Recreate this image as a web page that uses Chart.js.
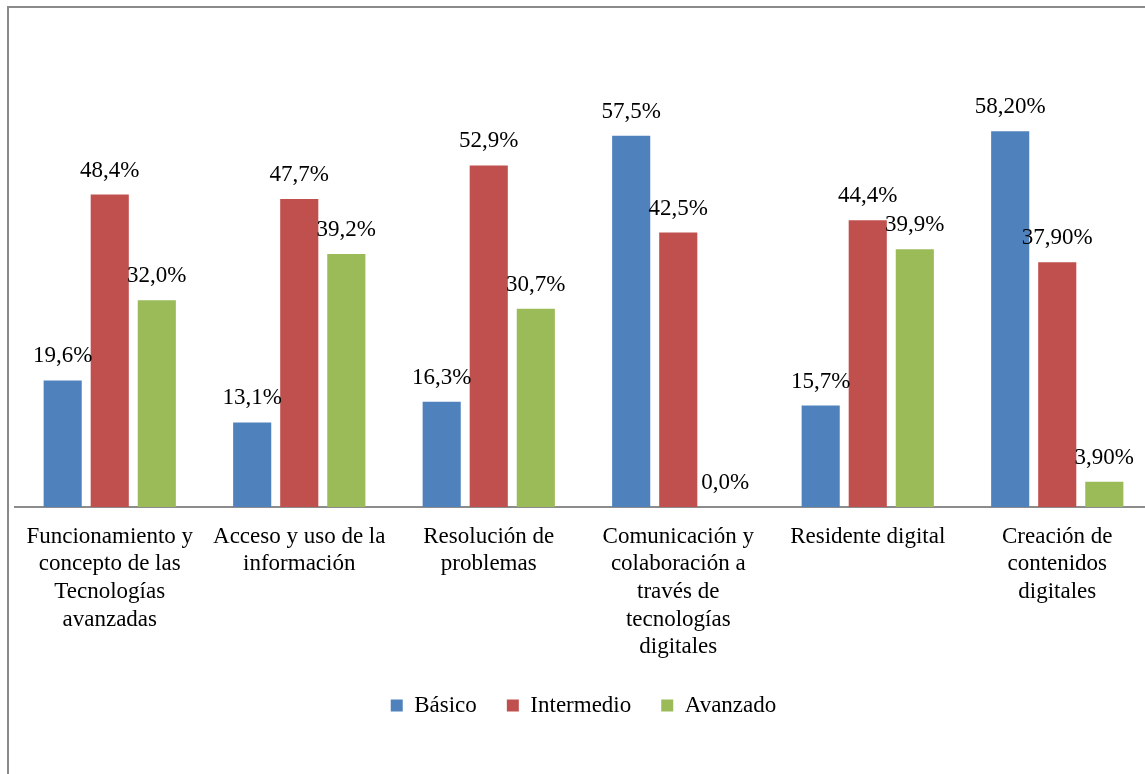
<!DOCTYPE html>
<html>
<head>
<meta charset="utf-8">
<script src="https://cdn.jsdelivr.net/npm/chart.js@4"></script>
<style>
  html, body { margin: 0; padding: 0; background: #fff; overflow: hidden; }
  #wrap { position: relative; width: 1145px; height: 774px; overflow: hidden; }
  #frame { position: absolute; left: 7px; top: 6px; width: 1200px; height: 900px;
           border: 2px solid #8a8a8a; box-sizing: border-box; pointer-events: none; }
  canvas { position: absolute; left: 0; top: 0; }
</style>
</head>
<body>
<div id="wrap">
  <canvas id="chart" width="1152" height="774"></canvas>
  <div id="frame"></div>
</div>
<script>
/* ====== DATEN ====== */
const categories = [
  ["Funcionamiento y", "concepto de las", "Tecnologías", "avanzadas"],
  ["Acceso y uso de la", "información"],
  ["Resolución de", "problemas"],
  ["Comunicación y", "colaboración a", "través de", "tecnologías", "digitales"],
  ["Residente digital"],
  ["Creación de", "contenidos", "digitales"]
];
const basico     = [19.6, 13.1, 16.3, 57.5, 15.7, 58.2];
const intermedio = [48.4, 47.7, 52.9, 42.5, 44.4, 37.9];
const avanzado   = [32.0, 39.2, 30.7, 0.0, 39.9, 3.9];
// Nachkommastellen der Beschriftung je Kategorie (letzte Gruppe mit 2)
const decimals   = [1, 1, 1, 1, 1, 2];

const FONT = "'Liberation Serif', 'Times New Roman', serif";

/* ====== HELPERS ====== */
function fmtPct(v, d) {
  return v.toFixed(d).replace(".", ",") + "%";
}

// Werte über den Balken
const valueLabels = {
  id: "valueLabels",
  afterDatasetsDraw(chart) {
    const ctx = chart.ctx;
    ctx.save();
    ctx.font = "23px " + FONT;
    ctx.fillStyle = "#000";
    ctx.textAlign = "center";
    ctx.textBaseline = "middle";
    chart.data.datasets.forEach((ds, i) => {
      chart.getDatasetMeta(i).data.forEach((bar, j) => {
        ctx.fillText(fmtPct(ds.data[j], decimals[j]), bar.x, bar.y - 24);
      });
    });
    ctx.restore();
  }
};

/* ====== CHART ====== */
new Chart(document.getElementById("chart").getContext("2d"), {
  type: "bar",
  data: {
    labels: categories,
    datasets: [
      { label: "Básico",     data: basico,     backgroundColor: "#4F81BD" },
      { label: "Intermedio", data: intermedio, backgroundColor: "#C0504D" },
      { label: "Avanzado",   data: avanzado,   backgroundColor: "#9BBB59" }
    ]
  },
  options: {
    responsive: false,
    animation: false,
    datasets: {
      bar: { categoryPercentage: 0.745, barPercentage: 0.81 }
    },
    layout: { padding: { left: 15, right: 0, top: 55, bottom: 47 } },
    plugins: {
      tooltip: { enabled: false },
      legend: {
        position: "bottom",
        labels: {
          boxWidth: 12,
          boxHeight: 12,
          padding: 30,
          color: "#000",
          font: { family: FONT, size: 23 }
        }
      }
    },
    scales: {
      x: {
        grid: { display: false, drawTicks: false },
        border: { display: true, color: "#8c8c8c", width: 2 },
        ticks: {
          color: "#000",
          autoSkip: false,
          maxRotation: 0,
          padding: 16,
          font: { family: FONT, size: 23, lineHeight: 1.2 }
        },
        afterFit: s => { s.height = 157; }
      },
      y: {
        display: false,
        min: 0,
        max: 70
      }
    }
  },
  plugins: [valueLabels]
});
</script>
</body>
</html>
